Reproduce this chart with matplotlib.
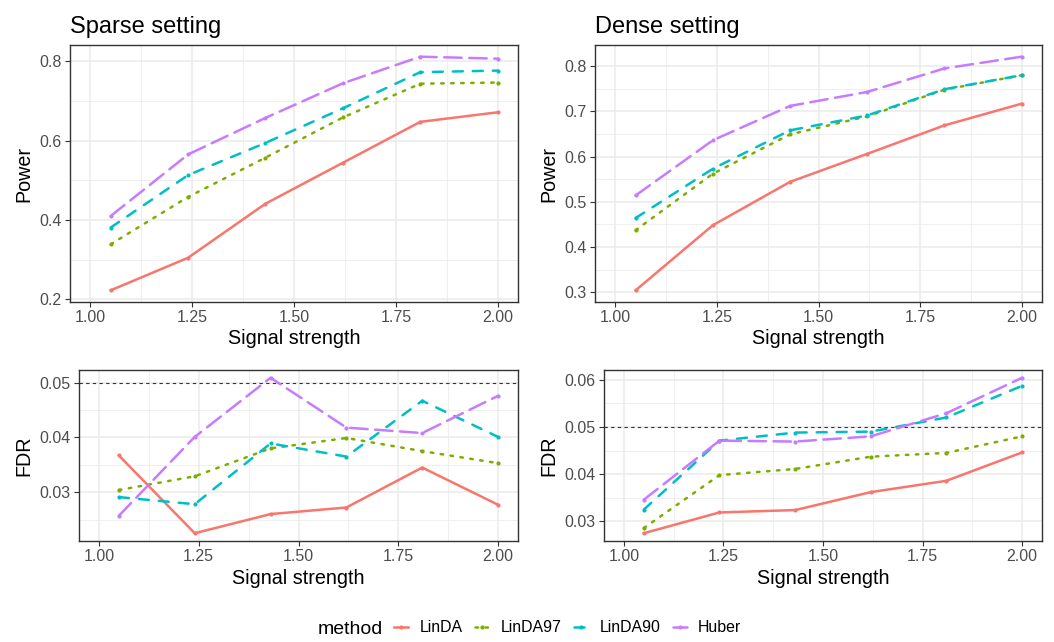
import matplotlib
matplotlib.use('Agg')
import matplotlib.pyplot as plt
from matplotlib.lines import Line2D
from matplotlib.ticker import MultipleLocator, FormatStrFormatter

plt.rcParams.update({'font.family': ['Liberation Sans', 'DejaVu Sans']})

# ---- data ----
signal = [1.05, 1.24, 1.43, 1.62, 1.81, 2.00]
methods = ['LinDA', 'LinDA97', 'LinDA90', 'Huber']

sparse_power = {
    'LinDA':   [0.223, 0.305, 0.441, 0.544, 0.647, 0.671],
    'LinDA97': [0.339, 0.458, 0.557, 0.658, 0.743, 0.746],
    'LinDA90': [0.381, 0.513, 0.594, 0.681, 0.772, 0.776],
    'Huber':   [0.410, 0.565, 0.657, 0.744, 0.811, 0.806],
}
dense_power = {
    'LinDA':   [0.304, 0.448, 0.544, 0.606, 0.669, 0.717],
    'LinDA97': [0.437, 0.562, 0.649, 0.689, 0.748, 0.780],
    'LinDA90': [0.464, 0.573, 0.658, 0.691, 0.749, 0.780],
    'Huber':   [0.514, 0.636, 0.712, 0.743, 0.795, 0.821],
}
sparse_fdr = {
    'LinDA':   [0.0367, 0.0225, 0.0260, 0.0272, 0.0345, 0.0277],
    'LinDA97': [0.0304, 0.0329, 0.0380, 0.0399, 0.0375, 0.0353],
    'LinDA90': [0.0291, 0.0278, 0.0389, 0.0365, 0.0467, 0.0401],
    'Huber':   [0.0257, 0.0401, 0.0509, 0.0418, 0.0408, 0.0476],
}
dense_fdr = {
    'LinDA':   [0.0275, 0.0319, 0.0324, 0.0362, 0.0386, 0.0446],
    'LinDA97': [0.0286, 0.0398, 0.0411, 0.0437, 0.0445, 0.0480],
    'LinDA90': [0.0325, 0.0471, 0.0488, 0.0490, 0.0520, 0.0587],
    'Huber':   [0.0346, 0.0471, 0.0469, 0.0480, 0.0529, 0.0604],
}
fdr_level = 0.05

# ggplot hue palette + linetypes (solid / dotted / dashed / longdash)
colors = {'LinDA': '#F8766D', 'LinDA97': '#7CAE00', 'LinDA90': '#00BFC4', 'Huber': '#C77CFF'}
dashes = {'LinDA': None, 'LinDA97': (1, 3), 'LinDA90': (4, 4), 'Huber': (7, 3)}

LW = 1.8
W, H = 1054, 642
fig = plt.figure(figsize=(W / 100, H / 100), dpi=100)

def rect(l, t, r, b):
    return [l / W, 1 - b / H, (r - l) / W, (b - t) / H]

def style(ax, ymajor, yminor):
    ax.set_xlim(0.95, 2.05)
    ax.xaxis.set_major_locator(MultipleLocator(0.25))
    ax.xaxis.set_minor_locator(MultipleLocator(0.125))
    ax.yaxis.set_major_locator(MultipleLocator(ymajor))
    ax.yaxis.set_minor_locator(MultipleLocator(yminor))
    ax.xaxis.set_major_formatter(FormatStrFormatter('%.2f'))
    ax.grid(True, which='major', color='#EBEBEB', lw=1.1, zorder=0)
    ax.grid(True, which='minor', color='#EBEBEB', lw=0.55, zorder=0)
    ax.set_axisbelow(True)
    for s in ax.spines.values():
        s.set_color('#333333')
        s.set_linewidth(1.0)
    ax.tick_params(which='major', direction='out', length=3.5, width=0.8,
                   color='#333333', labelcolor='#4D4D4D', labelsize=11.5, pad=2.5)
    ax.tick_params(which='minor', length=0)
    ax.set_xlabel('Signal strength', fontsize=14.2, labelpad=3)

def make_line(ax, x, y, m):
    ln, = ax.plot(x, y, color=colors[m], lw=LW, marker='o', markersize=3,
                  markeredgewidth=0, dash_capstyle='round', zorder=3)
    if dashes[m] is not None:
        ln.set_dashes(dashes[m])
    return ln

def draw(ax, data, hline=None):
    allv = [v for m in methods for v in data[m]]
    lo, hi = min(allv), max(allv)
    if hline is not None:
        lo, hi = min(lo, hline), max(hi, hline)
        ax.axhline(hline, color='#333333', lw=0.8, dashes=(3, 3), zorder=1)
    pad = (hi - lo) * 0.05
    ax.set_ylim(lo - pad, hi + pad)
    for m in methods:
        make_line(ax, signal, data[m], m)

ax1 = fig.add_axes(rect(70, 45, 518, 302))
draw(ax1, sparse_power)
style(ax1, 0.2, 0.1)
ax1.set_ylabel('Power', fontsize=14.2, labelpad=4)
ax1.set_title('Sparse setting', loc='left', fontsize=17, pad=9)

ax2 = fig.add_axes(rect(595, 45, 1042, 302))
draw(ax2, dense_power)
style(ax2, 0.1, 0.05)
ax2.set_ylabel('Power', fontsize=14.2, labelpad=4)
ax2.set_title('Dense setting', loc='left', fontsize=17, pad=9)

ax3 = fig.add_axes(rect(79, 370, 518, 541))
draw(ax3, sparse_fdr, hline=fdr_level)
style(ax3, 0.01, 0.005)
ax3.set_ylabel('FDR', fontsize=14.2, labelpad=4)

ax4 = fig.add_axes(rect(604, 370, 1042, 541))
draw(ax4, dense_fdr, hline=fdr_level)
style(ax4, 0.01, 0.005)
ax4.set_ylabel('FDR', fontsize=14.2, labelpad=4)

# legend at the bottom, title on the left like ggplot
handles = []
for m in methods:
    h = Line2D([0], [0], color=colors[m], lw=LW, marker='o', markersize=3,
               markeredgewidth=0, dash_capstyle='round')
    if dashes[m] is not None:
        h.set_dashes(dashes[m])
    handles.append(h)
fig.text(318 / W, 1 - 629 / H, 'method', fontsize=14, va='center', ha='left')
fig.legend(handles, methods, loc='center left', bbox_to_anchor=(394 / W, 1 - 628 / H),
           ncol=4, frameon=False, fontsize=11.4, handlelength=0.9, handletextpad=0.7,
           columnspacing=0.8, borderpad=0, borderaxespad=0)

fig.savefig('out.png', dpi=100)
